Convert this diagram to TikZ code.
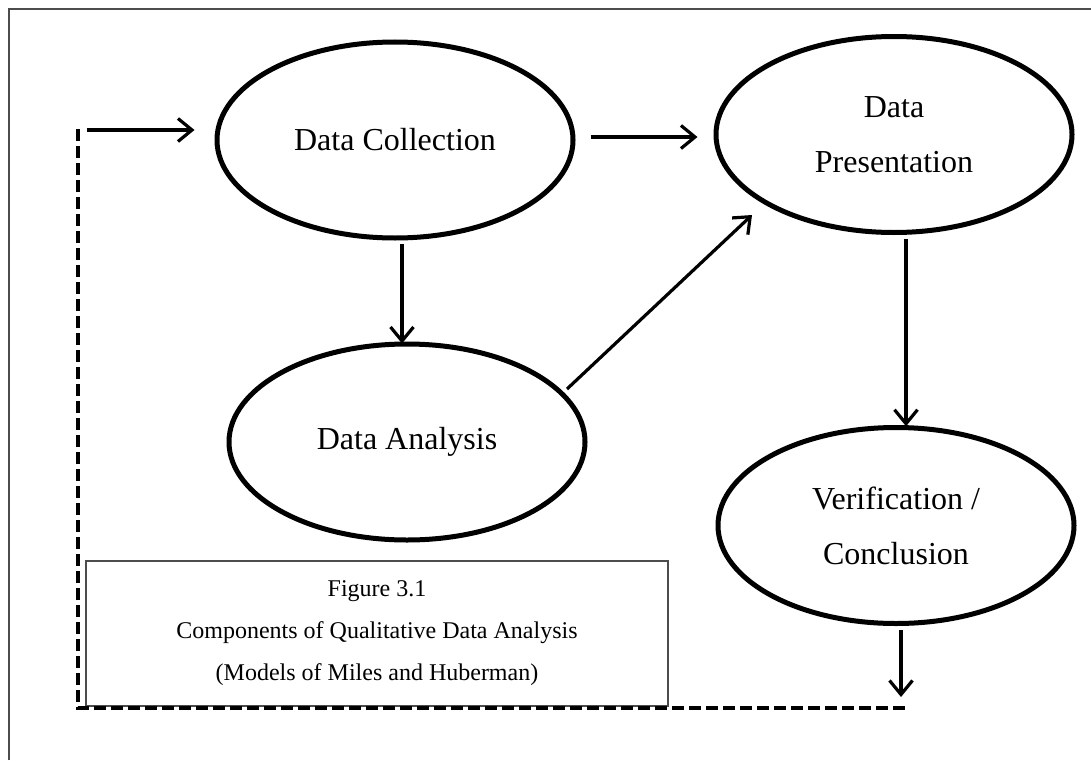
\documentclass[tikz,border=0pt]{standalone}
\usepackage{fontspec}
\setmainfont{Liberation Serif}
\usetikzlibrary{arrows.meta,shapes.geometric}
\begin{document}
\begin{tikzpicture}[x=1pt,y=-1pt,
  oval/.style={ellipse,draw,line width=5pt,minimum width=356pt,minimum height=196pt,inner sep=0pt,align=center,font=\fontsize{32}{55}\selectfont},
  arr/.style={line width=3.2pt,-{Straight Barb[length=14pt,width=23pt]}},
  dashline/.style={line width=3.6pt,dash pattern=on 12pt off 5pt},
  framestyle/.style={draw=black!70,line width=1.5pt},
  capbox/.style={draw=black!70,line width=1.8pt,minimum width=582pt,minimum height=145pt,inner sep=0pt,align=center,font=\fontsize{24}{42}\selectfont}]
\useasboundingbox (0,0) rectangle (1091,760);
\fill[white] (0,0) rectangle (1091,760);
\draw[framestyle] (9,760) -- (9,9) -- (1091,9);

\node[oval] (dc) at (395,140) {Data Collection};
\node[oval] (dp) at (894,134.5) {Data\\Presentation};
\node[oval] (da) at (407,442) {Data Analysis};
\node[oval] (vc) at (896,525.5) {Verification /\\Conclusion};
\node[capbox] (cap) at (377,633.5) {Figure 3.1\\Components of Qualitative Data Analysis\\(Models of Miles and Huberman)};

\draw[arr] ([xshift=15pt,yshift=3pt]dc.east) -- ([xshift=-16pt,yshift=-2.5pt]dp.west);
\draw[arr] ([xshift=7pt,yshift=-3pt]dc.south) -- ([xshift=-5pt,yshift=-2pt]da.north);
\draw[arr] ([xshift=160pt,yshift=53pt]da.center) -- ([xshift=-142pt,yshift=-80.5pt]dp.center);
\draw[arr] ([xshift=12pt,yshift=-3.75pt]dp.south) -- ([xshift=10pt,yshift=-1.25pt]vc.north);

\coordinate (fb1) at (901,697);
\coordinate (fb2) at (905,708);
\coordinate (fb3) at (78,708);
\coordinate (fb4) at (78,128);
\coordinate (fb5) at (87,130);
\draw[arr] ([xshift=5pt,yshift=-4pt]vc.south) -- (fb1);
\draw[dashline] (fb2) -- (fb3) -- (fb4);
\draw[arr] (fb5) -- ([xshift=-20pt,yshift=10pt]dc.west);
\end{tikzpicture}
\end{document}
